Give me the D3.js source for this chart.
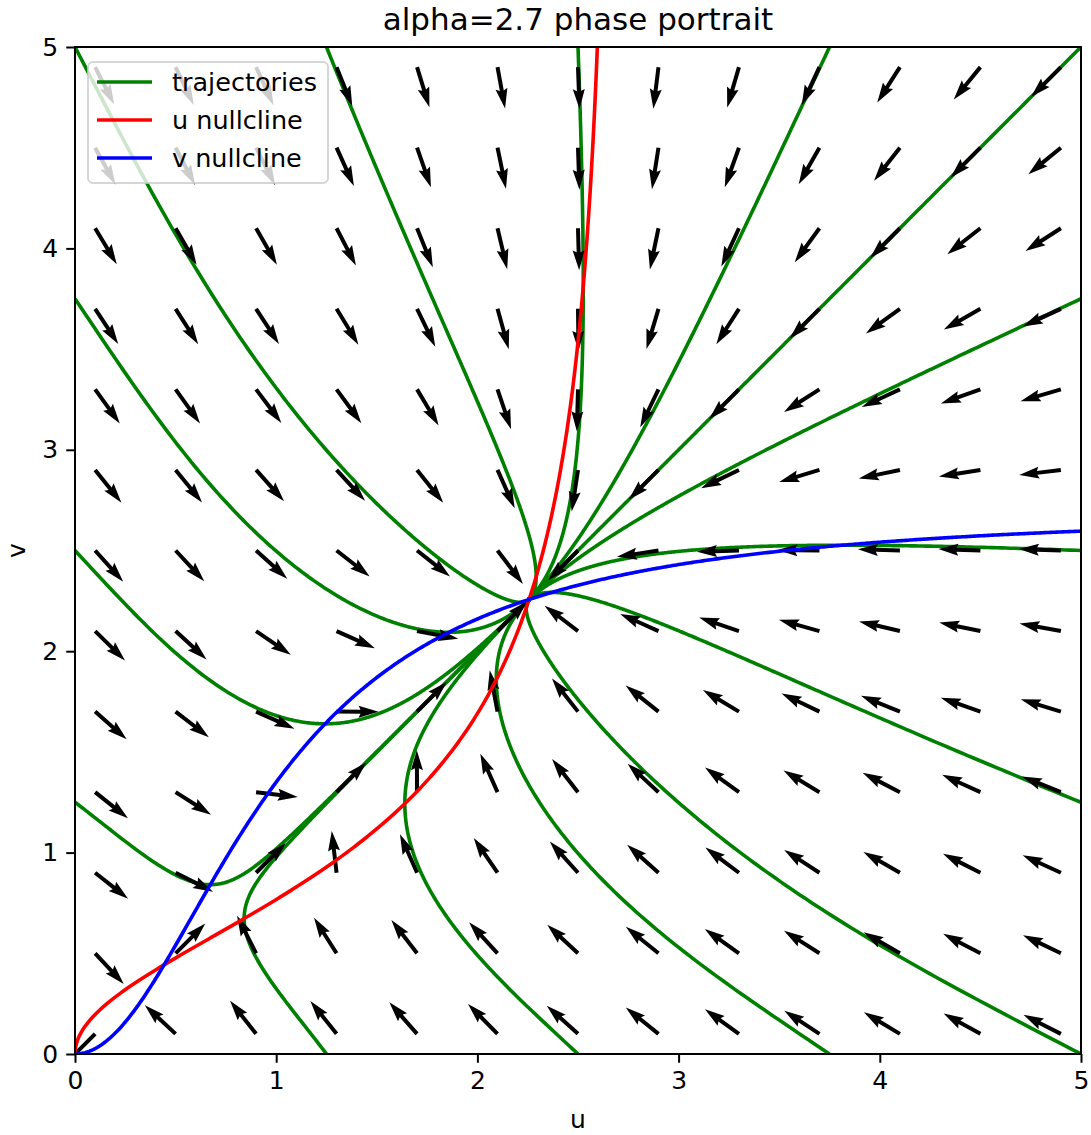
<!DOCTYPE html>
<html>
<head>
<meta charset="utf-8">
<script src="https://cdn.jsdelivr.net/npm/d3@7"></script>
<style>
  body { margin: 0; background: #fff; }
  text { font-family: "DejaVu Sans", sans-serif; }
</style>
</head>
<body>
<script>
// model parameter (from title) and hill exponent
const alpha = 2.7
const hill = 2
// quiver grid
const gridU = [0.1, 0.5, 0.9, 1.3, 1.7, 2.1, 2.5, 2.9, 3.3, 3.7, 4.1, 4.5, 4.9]
const gridV = [0.1, 0.5, 0.9, 1.3, 1.7, 2.1, 2.5, 2.9, 3.3, 3.7, 4.1, 4.5, 4.9]
// trajectory starting points (u0, v0)
const starts = [
  [0, 0], [0, 1.25], [0, 2.5], [0, 3.75], [0, 5],
  [1.25, 5], [2.5, 5], [3.75, 5], [5, 5],
  [5, 3.75], [5, 2.5], [5, 1.25], [5, 0],
  [3.75, 0], [2.5, 0], [1.25, 0]
]
const xTicks = [0, 1, 2, 3, 4, 5]
const yTicks = [0, 1, 2, 3, 4, 5]
const legendItems = [
  { label: "trajectories", color: "green" },
  { label: "u nullcline", color: "red" },
  { label: "v nullcline", color: "blue" }
]

const W = 1091, H = 1135
const mLeft = 75, mRight = 1081, mTop = 47, mBottom = 1054

const svg = d3.select('body').append('svg')
  .attr('width', W)
  .attr('height', H)

const x = d3.scaleLinear().domain([0, 5]).range([mLeft, mRight])
const y = d3.scaleLinear().domain([0, 5]).range([mBottom, mTop])

function hillf(s) {
  return alpha * Math.pow(s, hill) / (1 + Math.pow(s, hill))
}
function field(u, v) {
  return [hillf(v) - u, hillf(u) - v]
}

svg.append('clipPath').attr('id', 'clip')
  .append('rect')
  .attr('x', mLeft).attr('y', mTop)
  .attr('width', mRight - mLeft).attr('height', mBottom - mTop)

const plot = svg.append('g').attr('clip-path', 'url(#clip)')

// trajectories (RK4)
function integrate(u0, v0) {
  const pts = [[u0, v0]]
  let u = u0, v = v0
  const dt = 0.01
  for (let i = 0; i < 3000; i++) {
    const k1 = field(u, v)
    const k2 = field(u + dt / 2 * k1[0], v + dt / 2 * k1[1])
    const k3 = field(u + dt / 2 * k2[0], v + dt / 2 * k2[1])
    const k4 = field(u + dt * k3[0], v + dt * k3[1])
    u += dt / 6 * (k1[0] + 2 * k2[0] + 2 * k3[0] + k4[0])
    v += dt / 6 * (k1[1] + 2 * k2[1] + 2 * k3[1] + k4[1])
    pts.push([u, v])
  }
  return pts
}

const line = d3.line().x(d => x(d[0])).y(d => y(d[1]))

plot.selectAll('path.traj')
  .data(starts.map(s => integrate(s[0], s[1])))
  .enter()
  .append('path')
  .attr('class', 'traj')
  .attr('d', line)
  .attr('fill', 'none')
  .attr('stroke', 'green')
  .attr('stroke-width', 3.6)

// quiver, normalised arrows
const arrows = []
gridU.forEach(u => {
  gridV.forEach(v => {
    const [du, dv] = field(u, v)
    const n = Math.hypot(du, dv)
    if (n > 0) arrows.push({ u, v, du: du / n, dv: dv / n })
  })
})
const L = 42, sw = 4
const shaftEnd = L - 4.5 * sw, headBack = L - 5 * sw
const arrowShape = [
  [0, -sw / 2], [shaftEnd, -sw / 2], [headBack, -1.5 * sw], [L, 0],
  [headBack, 1.5 * sw], [shaftEnd, sw / 2], [0, sw / 2]
]
plot.selectAll('path.arrow')
  .data(arrows)
  .enter()
  .append('path')
  .attr('class', 'arrow')
  .attr('d', 'M' + arrowShape.map(p => p.join(',')).join('L') + 'Z')
  .attr('transform', d => {
    const ang = Math.atan2(-d.dv, d.du) * 180 / Math.PI
    return `translate(${x(d.u)},${y(d.v)}) rotate(${ang})`
  })
  .attr('fill', 'black')

// nullclines
const vs = d3.range(0, 5.0001, 0.01)
plot.append('path')
  .datum(vs.map(v => [hillf(v), v]))
  .attr('d', line)
  .attr('fill', 'none')
  .attr('stroke', 'red')
  .attr('stroke-width', 3.6)
plot.append('path')
  .datum(vs.map(u => [u, hillf(u)]))
  .attr('d', line)
  .attr('fill', 'none')
  .attr('stroke', 'blue')
  .attr('stroke-width', 3.6)

// axes frame
svg.append('rect')
  .attr('x', mLeft).attr('y', mTop)
  .attr('width', mRight - mLeft).attr('height', mBottom - mTop)
  .attr('fill', 'none')
  .attr('stroke', 'black')
  .attr('stroke-width', 2)

const xAxis = svg.append('g')
  .attr('transform', `translate(0,${mBottom})`)
  .call(d3.axisBottom(x).tickValues(xTicks).tickFormat(d3.format('d')).tickSize(8.75).tickPadding(8))
const yAxis = svg.append('g')
  .attr('transform', `translate(${mLeft},0)`)
  .call(d3.axisLeft(y).tickValues(yTicks).tickFormat(d3.format('d')).tickSize(8.75).tickPadding(8))
;[xAxis, yAxis].forEach(g => {
  g.select('.domain').remove()
  g.selectAll('line').attr('stroke', 'black').attr('stroke-width', 2)
  g.selectAll('text').attr('font-size', 25).attr('fill', 'black')
    .attr('font-family', '"DejaVu Sans", sans-serif')
})

svg.append('text')
  .attr('x', (mLeft + mRight) / 2).attr('y', 1128)
  .attr('text-anchor', 'middle')
  .attr('font-size', 25)
  .text('u')
svg.append('text')
  .attr('transform', `translate(25,${(mTop + mBottom) / 2}) rotate(-90)`)
  .attr('text-anchor', 'middle')
  .attr('font-size', 25)
  .text('v')
svg.append('text')
  .attr('x', (mLeft + mRight) / 2).attr('y', 30)
  .attr('text-anchor', 'middle')
  .attr('font-size', 31)
  .text('alpha=2.7 phase portrait')

// legend
const lg = svg.append('g')
lg.append('rect')
  .attr('x', 88).attr('y', 62)
  .attr('width', 240).attr('height', 121)
  .attr('rx', 5)
  .attr('fill', 'white').attr('fill-opacity', 0.8)
  .attr('stroke', '#cccccc').attr('stroke-opacity', 0.8)
  .attr('stroke-width', 2)
legendItems.forEach((d, i) => {
  const yy = 82 + i * 38
  lg.append('line')
    .attr('x1', 97).attr('x2', 152)
    .attr('y1', yy).attr('y2', yy)
    .attr('stroke', d.color).attr('stroke-width', 3.6)
  lg.append('text')
    .attr('x', 172).attr('y', yy + 9)
    .attr('font-size', 25.5)
    .text(d.label)
})
</script>
</body>
</html>
